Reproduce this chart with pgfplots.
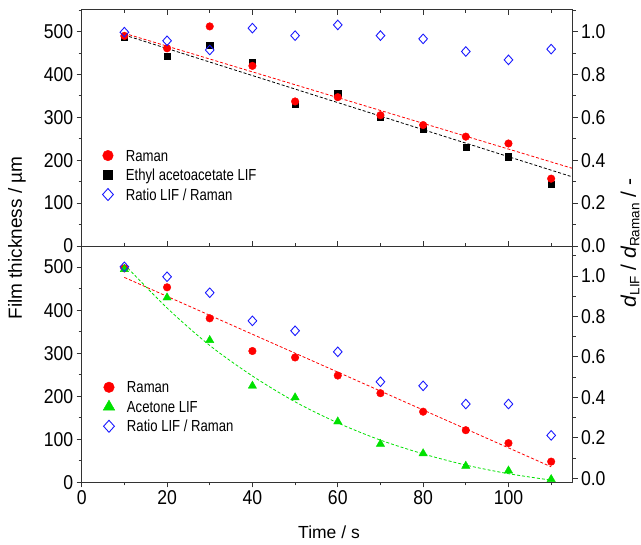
\documentclass[border=0pt]{standalone}
\usepackage{pgfplots}
\pgfplotsset{compat=1.18}
\usepackage{fontspec}
\setmainfont{Liberation Sans}
\newfontfamily\cond[FakeStretch=0.82]{Liberation Sans}
\newfontfamily\condt[FakeStretch=0.88]{Liberation Sans}
\definecolor{myred}{RGB}{255,0,0}
\definecolor{myblue}{RGB}{25,25,255}
\definecolor{mygreen}{RGB}{0,225,0}
\pgfplotsset{
  base/.style={
    scale only axis, width=490.8pt, height=236.3pt,
    xmin=0, xmax=115,
    axis line style={line width=0.9pt, black!80},
    every tick/.style={line width=0.8pt, black!80},
    major tick length=5pt, minor tick length=3pt,
    /pgf/number format/assume math mode=true,
    tick label style={font=\condt\fontsize{20}{20}\selectfont},
  },
  rightax/.style={
    axis y line*=right, axis x line=none,
    ytick={0,0.2,0.4,0.6,0.8,1.0},
    minor ytick={0.1,0.3,0.5,0.7,0.9,1.1},
    tick align=outside,
    yticklabel style={/pgf/number format/.cd, fixed, fixed zerofill, precision=1},
  },
  legset/.style={
    legend cell align=left,
    legend style={draw=none, fill=none, inner sep=0pt, outer sep=0pt,
      font=\cond\fontsize{16}{16}\selectfont, row sep=4.5pt, column sep=12pt,
      nodes={inner sep=0pt, text height=11.5pt, text depth=3.5pt}},
    legend image code/.code={\path[draw=none, fill=none] (0pt,-7.5pt) rectangle (12pt,7.5pt);
      \pgfinterruptboundingbox\draw[##1] plot coordinates {(6pt,1.7pt)};\endpgfinterruptboundingbox},
  },
}
\begin{document}
\begin{tikzpicture}
\useasboundingbox (-81.7pt,-62.7pt) rectangle (559.3pt,482.3pt);
% ---------- top panel: x ticks (inside)
\begin{axis}[base, at={(0pt,236.3pt)}, ymin=0, ymax=551,
  ytick=\empty, xtick={0,20,40,60,80,100}, minor xtick={10,30,50,70,90,110},
  xticklabels={}, tick align=inside, xtick pos=both]
\end{axis}
% ---------- top panel: left axis
\begin{axis}[base, legset, at={(0pt,236.3pt)}, ymin=0, ymax=551,
  ytick={0,100,200,300,400,500}, minor ytick={50,150,250,350,450,550},
  ytick pos=left, xtick=\empty, tick align=outside,
  legend style={at={(axis cs:4.75,224.4)}, anchor=north west}]
\addplot[myred, dashed, line width=0.8pt, dash pattern=on 3pt off 2pt, forget plot] coordinates {(10,496) (115,181)};
\addplot[black, dashed, line width=0.8pt, dash pattern=on 3pt off 2pt, forget plot] coordinates {(10,492) (115,161)};
\addplot[only marks, mark=square*, black, mark size=3.1pt, forget plot] coordinates {
(10,488) (20,442) (30,469) (40,428) (50,331) (60,357) (70,300) (80,273) (90,231) (100,208) (110,144)};
\addplot[only marks, mark=*, myred, mark size=3.8pt, forget plot] coordinates {
(10,490) (20,461) (30,512) (40,420) (50,337) (60,347) (70,305) (80,282) (90,255) (100,239) (110,157)};
\addlegendimage{only marks, mark=*, myred, mark size=5.3pt}
\addlegendentry{Raman}
\addlegendimage{only marks, mark=square*, black, mark size=4.5pt}
\addlegendentry{Ethyl acetoacetate LIF}
\addlegendimage{only marks, mark=diamond, myblue, line width=0.9pt, mark size=6pt, mark options={xscale=1.2}}
\addlegendentry{Ratio LIF / Raman}
\end{axis}
% ---------- top panel: right axis
\begin{axis}[base, rightax, at={(0pt,236.3pt)}, ymin=0, ymax=1.102]
\addplot[only marks, mark=diamond, myblue, line width=0.9pt, mark size=4.8pt, mark options={xscale=1.2}] coordinates {
(10,0.997) (20,0.957) (30,0.914) (40,1.016) (50,0.981) (60,1.031) (70,0.981) (80,0.966) (90,0.907) (100,0.868) (110,0.918)};
\end{axis}
% ---------- bottom panel: left axis
\begin{axis}[base, legset, at={(0pt,0pt)}, ymin=0, ymax=549,
  ytick={0,100,200,300,400,500}, minor ytick={50,150,250,350,450},
  ytick pos=left, xtick={0,20,40,60,80,100}, minor xtick={10,30,50,70,90,110},
  xtick pos=bottom, tick align=outside,
  legend style={at={(axis cs:4.99,234.2)}, anchor=north west}]
\addplot[myred, dashed, line width=0.8pt, dash pattern=on 3pt off 2pt, forget plot] coordinates {(10,476) (110,36)};
\addplot[mygreen, dashed, line width=0.8pt, dash pattern=on 3pt off 2pt, smooth, forget plot] coordinates {
(10,506) (20,405) (30,318) (40,247) (50,187) (60,138) (70,98) (80,66) (90,40) (100,20) (110,5)};
\addplot[only marks, mark=*, myred, mark size=3.8pt, forget plot] coordinates {
(10,497) (20,453) (30,381) (40,305) (50,290) (60,248) (70,207) (80,164) (90,121) (100,91) (110,48)};
\addplot[only marks, mark=triangle*, mygreen, mark size=4.8pt, forget plot] coordinates {
(10,495) (20,429) (30,330) (40,224) (50,197) (60,141) (70,89) (80,67) (90,38) (100,27) (110,7)};
\addlegendimage{only marks, mark=*, myred, mark size=5.3pt}
\addlegendentry{Raman}
\addlegendimage{only marks, mark=triangle*, mygreen, mark size=6.7pt}
\addlegendentry{Acetone LIF}
\addlegendimage{only marks, mark=diamond, myblue, line width=0.9pt, mark size=6pt, mark options={xscale=1.2}}
\addlegendentry{Ratio LIF / Raman}
\end{axis}
% ---------- bottom panel: right axis
\begin{axis}[base, rightax, at={(0pt,0pt)}, ymin=-0.0198, ymax=1.148]
\addplot[only marks, mark=diamond, myblue, line width=0.9pt, mark size=4.8pt, mark options={xscale=1.2}] coordinates {
(10,1.045) (20,0.996) (30,0.917) (40,0.778) (50,0.729) (60,0.625) (70,0.477) (80,0.457) (90,0.367) (100,0.367) (110,0.212)};
\end{axis}
% ---------- axis titles
\node[rotate=90, font=\fontsize{19}{19}\selectfont] at (-64.7pt,244.3pt) {Film thickness / µm};
\node[font=\fontsize{17.5}{17.5}\selectfont] at (247.3pt,-49.7pt) {Time / s};
\node[rotate=90, font=\fontsize{21}{21}\selectfont] at (548.3pt,239.3pt)
  {{\itshape d}\raisebox{-3.5pt}{\fontsize{13.5}{13.5}\selectfont LIF} / {\itshape d}\raisebox{-3.5pt}{\fontsize{13.5}{13.5}\selectfont Raman} / -};
\end{tikzpicture}
\end{document}
